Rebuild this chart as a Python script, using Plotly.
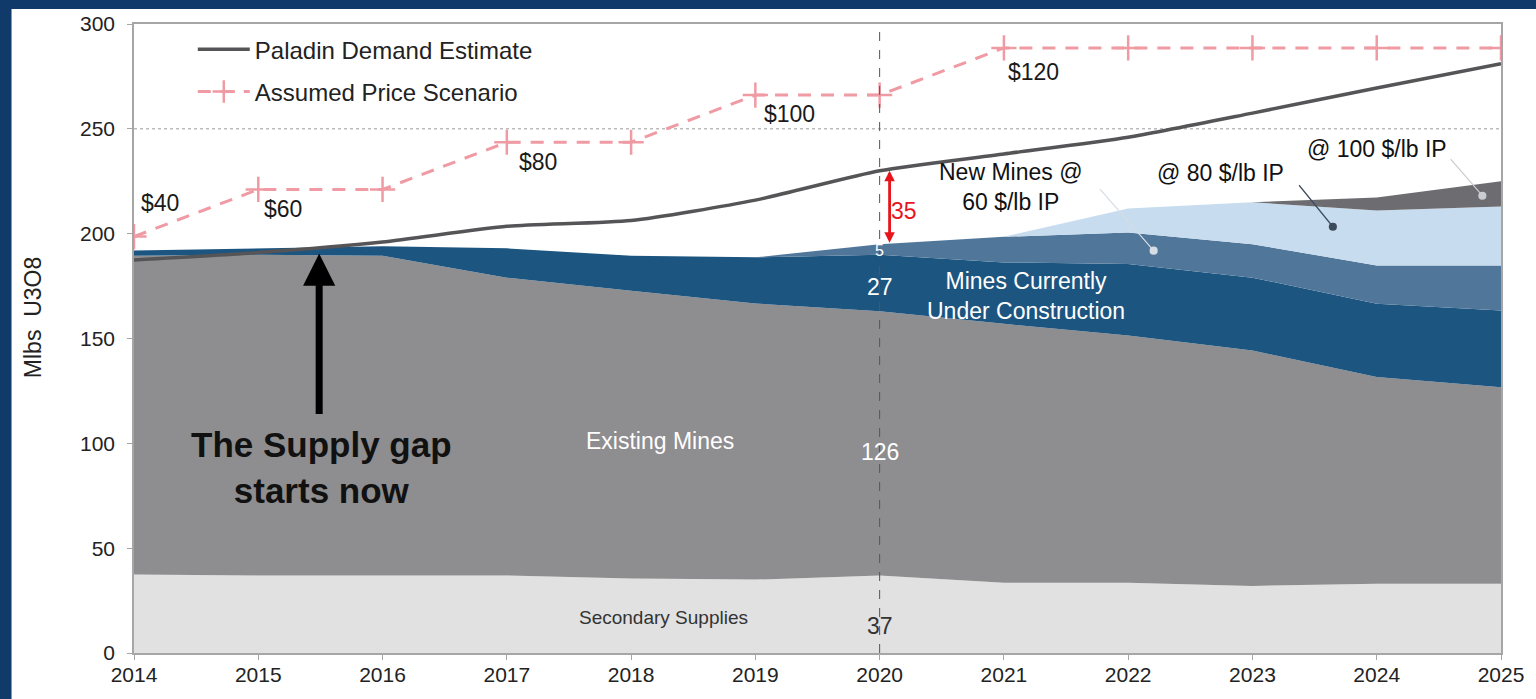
import plotly.graph_objects as go

# ---- data (Mlbs U3O8) ----
years = list(range(2014, 2026))
secondary_supplies = [37.5, 37, 37, 37, 35.5, 35, 37, 33.5, 33.5, 32, 33, 33]
existing_mines = [152, 153, 152.5, 142, 137.3, 131.7, 126, 123.5, 117.9, 112.3, 98.6, 93.8]
under_construction = [2.5, 3, 4.5, 14, 16.7, 22, 27, 29.3, 34.1, 34.7, 35, 36.5]
new_mines_60 = [0, 0, 0, 0, 0, 0, 5, 12.2, 15.1, 16, 18.2, 21.5]
new_mines_80 = [0, 0, 0, 0, 0, 0, 0, 0, 11.4, 20, 26.2, 28.1]
new_mines_100 = [0, 0, 0, 0, 0, 0, 0, 0, 0, 0, 6.3, 12.1]
demand = [187.5, 191, 196, 203.5, 206.3, 216, 230, 238, 246, 257.5, 269.5, 281]
price = [40, 60, 60, 80, 80, 100, 100, 120, 120, 120, 120, 120]  # $/lb

# price is drawn on a hidden axis aligned so that $40 -> 198.6 and $120 -> 288.6
PRICE_OFFSET, PRICE_SCALE = 153.6, 1.125
y2_range = [(0 - PRICE_OFFSET) / PRICE_SCALE, (300 - PRICE_OFFSET) / PRICE_SCALE]

FONT = "Liberation Sans, Arial, Helvetica, sans-serif"
NAVY = "#0f3a6a"
TXT = 23

fig = go.Figure()

layers = [
    ("Secondary Supplies", secondary_supplies, "#e1e1e1"),
    ("Existing Mines", existing_mines, "#8e8d8f"),
    ("Mines Currently Under Construction", under_construction, "#1c5580"),
    ("New Mines @ 60 $/lb IP", new_mines_60, "#50769a"),
    ("@ 80 $/lb IP", new_mines_80, "#c7dcee"),
    ("@ 100 $/lb IP", new_mines_100, "#6d6d71"),
]
for name, vals, col in layers:
    fig.add_trace(go.Scatter(
        x=years, y=vals, name=name, stackgroup="supply", mode="lines",
        line=dict(width=0, color=col), fillcolor=col, showlegend=False,
        hoverinfo="x+y+name",
    ))

fig.add_trace(go.Scatter(
    x=years, y=demand, name="Paladin Demand Estimate", mode="lines",
    line=dict(color="#555558", width=3.5, shape="spline", smoothing=0.6),
    legendgroup="d",
))
fig.add_trace(go.Scatter(
    x=years, y=price, name="Assumed Price Scenario", mode="lines+markers",
    yaxis="y2",
    line=dict(color="#f09aa4", width=3, dash="13px,10px"),
    marker=dict(symbol="cross-thin", size=18, line=dict(color="#f09aa4", width=2.5)),
    legendgroup="p",
))

annotations = []

# price level labels at the first year of each level
label_offsets = {40: (26, 34), 60: (25, -20), 80: (31, -20), 100: (34, -19), 120: (30, -24)}
seen = set()
for yr, p in zip(years, price):
    if p in seen:
        continue
    seen.add(p)
    dx, dy = label_offsets[p]
    annotations.append(dict(
        x=yr, y=p, yref="y2", text=f"${p}", showarrow=False,
        xshift=dx, yshift=dy, font=dict(size=TXT, color="#1a1a1a", family=FONT),
    ))

# values at 2020
i20 = years.index(2020)
supply_2020 = (secondary_supplies[i20] + existing_mines[i20] + under_construction[i20]
               + new_mines_60[i20] + new_mines_80[i20] + new_mines_100[i20])
gap_2020 = demand[i20] - supply_2020

annotations += [
    dict(x=2020, y=secondary_supplies[i20] - 24.1, text=f"{secondary_supplies[i20]:g}",
         showarrow=False, font=dict(size=TXT, color="#333333", family=FONT)),
    dict(x=2020, y=secondary_supplies[i20] + 58.7, text=f"{existing_mines[i20]:g}",
         showarrow=False, font=dict(size=TXT, color="white", family=FONT)),
    dict(x=2020, y=secondary_supplies[i20] + existing_mines[i20] + 11.8,
         text=f"{under_construction[i20]:g}",
         showarrow=False, font=dict(size=TXT, color="white", family=FONT)),
    dict(x=2020, y=supply_2020 - 3, text=f"{new_mines_60[i20]:g}",
         showarrow=False, font=dict(size=16, color="white", family=FONT)),
    dict(x=2020.2, y=supply_2020 + gap_2020 / 2 - 1.5, text=f"{gap_2020:g}",
         showarrow=False, font=dict(size=TXT, color="#e8141b", family=FONT)),
    # red gap arrow (double-headed)
    dict(x=2020.08, y=demand[i20], ax=2020.08, ay=supply_2020, axref="x", ayref="y",
         text="", showarrow=True, arrowside="end+start", arrowhead=2, startarrowhead=2,
         arrowsize=0.75, startarrowsize=0.75, arrowwidth=2.8, arrowcolor="#e8141b"),
    # big black arrow
    dict(x=2015.49, y=190.5, ax=2015.49, ay=113.3, axref="x", ayref="y",
         text="", showarrow=True, arrowhead=2, arrowsize=0.92, arrowwidth=7,
         arrowcolor="#000000"),
    dict(x=2015.51, y=88.6, text="<b>The Supply gap<br>starts now</b>", showarrow=False,
         font=dict(size=35, color="#111111", family=FONT)),
    # layer labels
    dict(x=2018.23, y=101, text="Existing Mines", showarrow=False,
         font=dict(size=TXT, color="white", family=FONT)),
    dict(x=2018.26, y=17.1, text="Secondary Supplies", showarrow=False,
         font=dict(size=19, color="#333333", family=FONT)),
    dict(x=2021.18, y=170.5, text="Mines Currently<br>Under Construction", showarrow=False,
         font=dict(size=TXT, color="white", family=FONT)),
    dict(x=2021.06, y=222.4, text="New Mines @<br>60 $/lb IP", showarrow=False,
         font=dict(size=TXT, color="#111111", family=FONT)),
    dict(x=2022.74, y=229, text="@ 80 $/lb IP", showarrow=False,
         font=dict(size=TXT, color="#111111", family=FONT)),
    dict(x=2024.0, y=240.5, text="@ 100 $/lb IP", showarrow=False,
         font=dict(size=TXT, color="#111111", family=FONT)),
    # leader lines with dots
    dict(x=2022.205, y=191.9, ax=-55, ay=-63, text="", showarrow=True, arrowhead=6,
         arrowsize=1.7, arrowwidth=1.2, arrowcolor="#d6dde4"),
    dict(x=2023.647, y=203.3, ax=-35, ay=-43, text="", showarrow=True, arrowhead=6,
         arrowsize=1.7, arrowwidth=1.2, arrowcolor="#3d4b5c"),
    dict(x=2024.85, y=218.1, ax=-33, ay=-38, text="", showarrow=True, arrowhead=6,
         arrowsize=1.7, arrowwidth=1.2, arrowcolor="#c9cdd2"),
    # y-axis title
    dict(x=-0.0743, y=0.533, xref="paper", yref="paper", xanchor="center",
         yanchor="middle", text="Mlbs  U3O8", textangle=-90, showarrow=False,
         font=dict(size=23, color="#222222", family=FONT)),
]

shapes = [
    # white panel over the navy page
    dict(type="rect", xref="paper", yref="paper", x0=-0.0896, x1=1.05, y0=-0.2, y1=1.0238,
         fillcolor="white", line=dict(width=0), layer="below"),
    # 250 gridline
    dict(type="line", xref="paper", yref="y", x0=0, x1=1, y0=250, y1=250,
         line=dict(color="#9a9a9a", width=1, dash="dot"), layer="below"),
    # 2020 marker line
    dict(type="line", xref="x", yref="paper", x0=2020, x1=2020, y0=0, y1=1,
         line=dict(color="#555555", width=1, dash="dash"), layer="above"),
]

fig.update_layout(
    width=1536, height=699,
    margin=dict(l=134, r=29, t=23, b=46),
    paper_bgcolor=NAVY, plot_bgcolor="white",
    font=dict(family=FONT, color="#222222"),
    xaxis=dict(range=[2014, 2025], dtick=1, tick0=2014, showgrid=False, zeroline=False,
               showline=True, linecolor="#a6a6a6", linewidth=1.5, mirror=True,
               ticks="outside", ticklen=5, tickcolor="#a6a6a6", ticklabelstandoff=-3,
               tickfont=dict(size=21, color="#222222", family=FONT)),
    yaxis=dict(range=[0, 300], dtick=50, showgrid=False, zeroline=False,
               showline=True, linecolor="#a6a6a6", linewidth=1.5, mirror=True,
               ticks="outside", ticklen=5, tickcolor="#a6a6a6", ticklabelstandoff=8,
               tickfont=dict(size=21, color="#222222", family=FONT)),
    yaxis2=dict(range=y2_range, overlaying="y", visible=False),
    legend=dict(x=0.043, y=0.995, xanchor="left", yanchor="top", itemwidth=52,
                bgcolor="rgba(0,0,0,0)", font=dict(size=24, color="#222222", family=FONT),
                tracegroupgap=8),
    annotations=annotations,
    shapes=shapes,
    showlegend=True,
)

fig.write_html("out.html")
